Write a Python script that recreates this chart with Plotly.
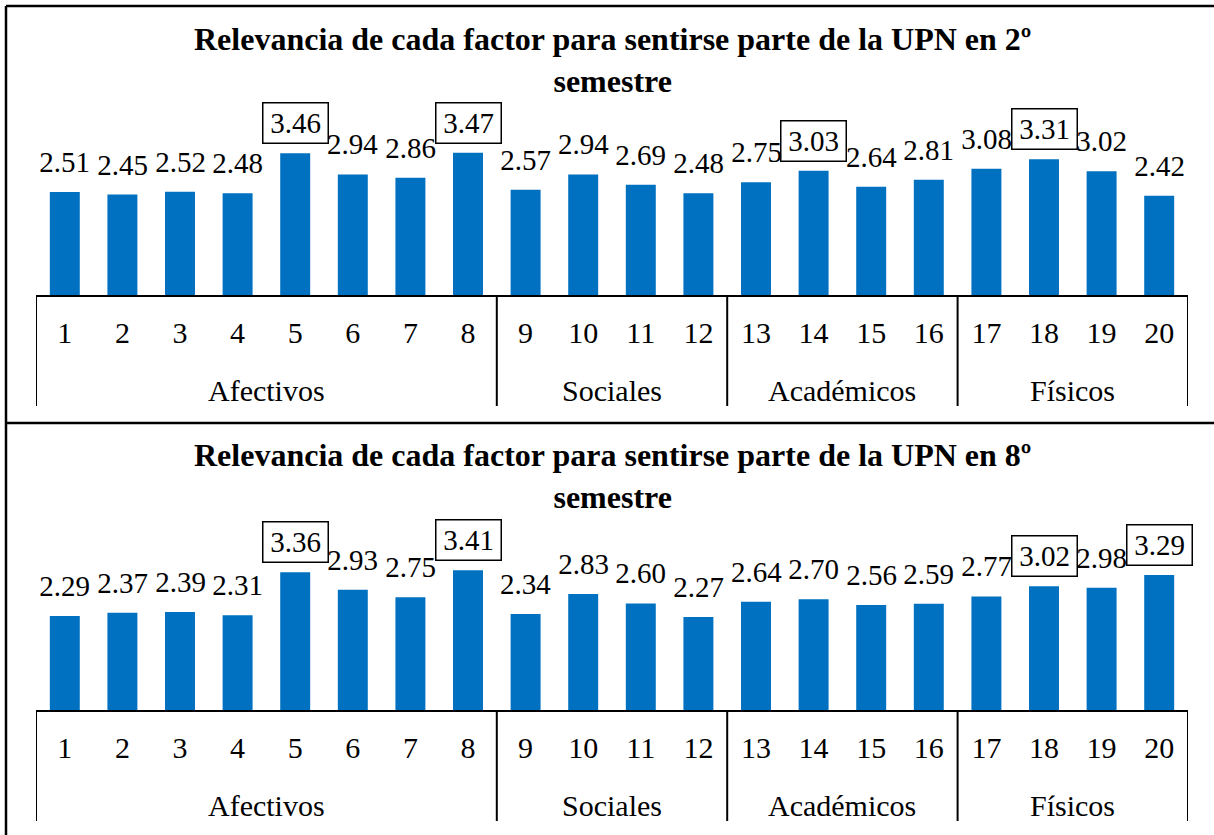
import plotly.graph_objects as go

# ---------------- data ----------------
factors = [str(i) for i in range(1, 21)]
group_names = ["Afectivos", "Sociales", "Académicos", "Físicos"]
group_sizes = [8, 4, 4, 4]

sem2_values = [2.51, 2.45, 2.52, 2.48, 3.46, 2.94, 2.86, 3.47, 2.57, 2.94,
               2.69, 2.48, 2.75, 3.03, 2.64, 2.81, 3.08, 3.31, 3.02, 2.42]
sem8_values = [2.29, 2.37, 2.39, 2.31, 3.36, 2.93, 2.75, 3.41, 2.34, 2.83,
               2.60, 2.27, 2.64, 2.70, 2.56, 2.59, 2.77, 3.02, 2.98, 3.29]
sem2_boxed = ["5", "8", "14", "18"]
sem8_boxed = ["5", "8", "18", "20"]

titles = [
    "Relevancia de cada factor para sentirse parte de la UPN en 2º<br>semestre",
    "Relevancia de cada factor para sentirse parte de la UPN en 8º<br>semestre",
]

# ---------------- layout helpers ----------------
W, H = 1214, 835
FONT = "Liberation Serif, Times New Roman, serif"
BAR_COLOR = "#0070C0"


def py(p):
    return 1 - p / H


def px(p):
    return p / W


panels = [
    dict(values=sem2_values, boxed=sem2_boxed, title=titles[0],
         base=295, top=131, title_y=19, xa="x", ya="y"),
    dict(values=sem8_values, boxed=sem8_boxed, title=titles[1],
         base=710, top=546, title_y=435, xa="x2", ya="y2"),
]

fig = go.Figure()
shapes = []
annotations = []

# group boundaries (category index space)
bounds = [-0.5]
for s in group_sizes:
    bounds.append(bounds[-1] + s)

for i, p in enumerate(panels):
    fig.add_trace(go.Bar(
        x=factors, y=p["values"], marker=dict(color=BAR_COLOR, line=dict(width=0)),
        xaxis=p["xa"], yaxis=p["ya"], showlegend=False, hoverinfo="x+y",
    ))
    sfx = "" if i == 0 else str(i + 1)
    plot_h = p["base"] - p["top"]
    fig.update_layout(**{
        "xaxis" + sfx: dict(
            domain=[px(36), px(1188)], anchor=p["ya"], type="category",
            range=[-0.5, len(factors) - 0.5],
            showline=True, linecolor="black", linewidth=2, ticks="",
            showgrid=False, zeroline=False,
            tickfont=dict(family=FONT, size=30, color="black"),
            ticklabelstandoff=10,
        ),
        "yaxis" + sfx: dict(
            domain=[py(p["base"]), py(p["top"])], anchor=p["xa"],
            range=[0, 4], visible=False, fixedrange=True,
        ),
    })

    # dividers between groups
    for b in bounds:
        shapes.append(dict(
            type="line", xref=p["xa"], yref=p["ya"] + " domain",
            x0=b, x1=b, y0=0, y1=-(406 - 295) / plot_h,
            line=dict(color="black", width=2),
        ))
    # group labels
    for g, name in enumerate(group_names):
        mid = (bounds[g] + bounds[g + 1]) / 2
        annotations.append(dict(
            text=name, xref=p["xa"], yref=p["ya"] + " domain",
            x=mid, y=-(390 - 295) / plot_h, showarrow=False,
            xanchor="center", yanchor="middle",
            font=dict(family=FONT, size=30, color="black"),
        ))
    # data labels (x given as category index)
    for idx, (f, v) in enumerate(zip(factors, p["values"])):
        boxed = f in p["boxed"]
        annotations.append(dict(
            text=f"{v:.2f}", xref=p["xa"], yref=p["ya"], x=idx, y=v,
            showarrow=False, xanchor="center", yanchor="bottom", yshift=9,
            width=62, height=37, borderpad=1, borderwidth=1.5,
            bordercolor="black" if boxed else "rgba(0,0,0,0)",
            font=dict(family=FONT, size=29, color="black"),
        ))
    # title
    annotations.append(dict(
        text="<b>" + p["title"] + "</b>", xref="paper", yref="paper",
        x=px(612), y=py(p["title_y"]), xanchor="center", yanchor="top",
        showarrow=False, align="center",
        font=dict(family=FONT, size=32, color="black"),
    ))

# chart frames
frame = dict(color="black", width=2.5)
shapes += [
    dict(type="line", xref="paper", yref="paper", x0=px(6), x1=px(6),
         y0=0, y1=py(6), line=frame),
    dict(type="line", xref="paper", yref="paper", x0=px(6), x1=1,
         y0=py(6), y1=py(6), line=frame),
    dict(type="line", xref="paper", yref="paper", x0=px(6), x1=1,
         y0=py(423), y1=py(423), line=frame),
]

fig.update_layout(
    width=W, height=H, margin=dict(l=0, r=0, t=0, b=0),
    paper_bgcolor="white", plot_bgcolor="white",
    bargap=0.48, shapes=shapes, annotations=annotations,
    font=dict(family=FONT, color="black"),
)

fig.write_html("out.html",
               config={"displayModeBar": False},
               post_script="document.body.style.margin='0';"
                           "document.body.style.overflow='hidden';")
